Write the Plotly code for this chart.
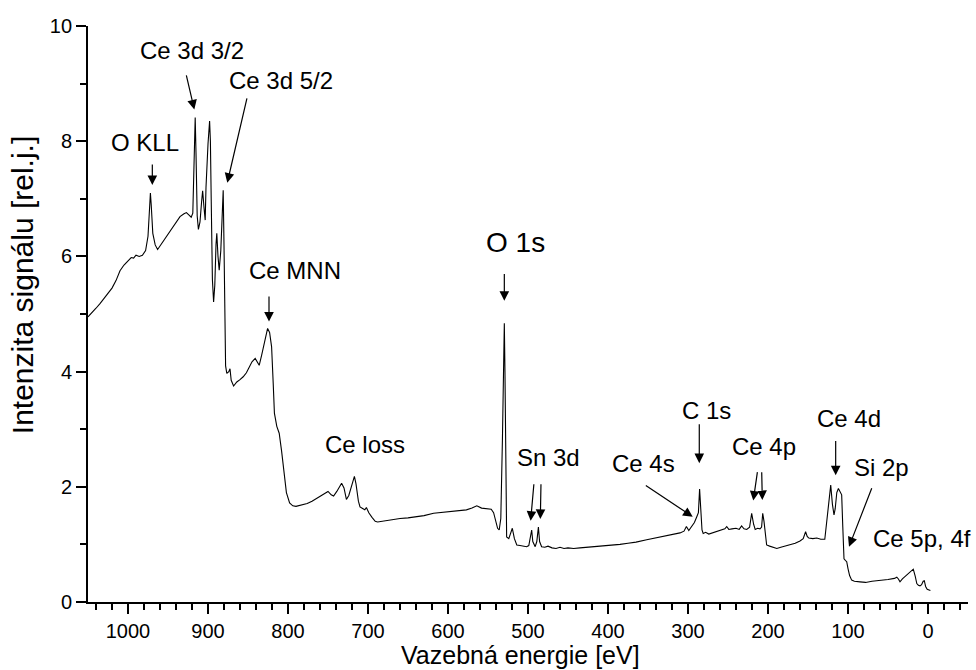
import plotly.graph_objects as go

# ---- spectrum data (binding energy [eV], intensity [rel. j.]) ----
energy = [
    1050, 1045, 1040, 1035, 1030, 1025, 1020, 1015, 1010, 1005, 1000, 996, 993, 990, 986, 982,
    978, 975, 973, 972, 971, 969, 966, 963, 960, 955, 950, 945, 940, 935, 930, 927, 924, 921,
    919, 917.5, 916, 915, 913.5, 912, 910, 908, 906.7, 905, 903.5, 902.5, 901, 900, 898, 897,
    896, 894.5, 893, 891.5, 890, 889, 887.5, 886, 884, 882, 881, 880, 879, 878, 876.5, 874,
    872.5, 871, 868, 864, 860, 856, 852, 848, 845, 841, 838.5, 836, 833, 830.5, 827.5, 825.5,
    823, 820.5, 818.5, 817, 814, 811, 808, 805, 802, 798, 794, 790, 785, 780, 776, 770, 765,
    760, 755, 750, 746, 743, 739, 735, 733, 730, 727, 724, 720, 717, 715, 712, 710, 707, 704,
    702, 699, 695, 691, 688, 680, 670, 660, 650, 640, 630, 618, 605, 590, 577, 570, 564, 558,
    552, 546, 543, 540, 538, 536, 534, 532, 530.5, 529.6, 528.8, 527.5, 526.7, 524, 521.5,
    519.6, 517, 514, 510, 506, 501.7, 499, 497, 495.4, 494, 491, 489, 487, 485.5, 483, 479,
    475, 470, 465, 460, 455, 450, 443, 435, 425, 415, 405, 393, 385, 375, 365, 351.6, 340,
    330, 320, 310, 305, 302, 299, 296, 292, 289, 287, 285.5, 284, 282.5, 281, 278, 274, 270,
    266, 262, 258, 254, 251.6, 249, 245, 240, 236, 233, 230, 226.6, 223, 220.4, 218, 216, 213,
    210, 208, 206.6, 205, 203, 201.7, 198, 194, 189, 184, 178, 172, 166, 160, 156, 153, 151,
    149, 144, 139, 134, 129, 127, 125.4, 123, 121.6, 119.5, 117.5, 116, 114, 112, 110, 107.9,
    106.5, 105, 103, 101.6, 100, 98, 95.4, 92, 85, 78, 70, 60, 50, 42, 39, 37, 35, 32, 28, 24,
    20, 18.4, 16, 14, 12, 10, 8, 6, 4.6, 3, 1, -3,
]
intensity = [
    4.95, 5.02, 5.10, 5.18, 5.27, 5.36, 5.45, 5.58, 5.75, 5.85, 5.92, 5.98, 5.97, 6.02, 6.00, 6.02,
    6.10, 6.35, 6.85, 7.10, 6.90, 6.40, 6.20, 6.12, 6.18, 6.28, 6.38, 6.48, 6.58, 6.69, 6.74, 6.76, 6.72, 6.68,
    6.75, 7.60, 8.41, 7.80, 6.70, 6.47, 6.60, 6.95, 7.14, 6.85, 6.63, 7.20, 7.85, 7.95, 8.35, 8.00,
    7.00, 5.60, 5.21, 5.50, 6.20, 6.40, 6.00, 5.76, 6.10, 6.90, 7.15, 6.20, 4.80, 4.10, 3.97, 4.00,
    4.05, 3.85, 3.75, 3.82, 3.86, 3.91, 3.98, 4.08, 4.17, 4.23, 4.18, 4.11, 4.28, 4.45, 4.65, 4.75,
    4.68, 4.43, 3.80, 3.28, 3.05, 2.93, 2.62, 2.20, 1.90, 1.72, 1.67, 1.66, 1.68, 1.70, 1.71, 1.75, 1.79,
    1.83, 1.87, 1.92, 1.86, 1.84, 1.92, 2.02, 2.06, 1.98, 1.78, 1.85, 2.05, 2.18, 2.05, 1.75, 1.65, 1.62, 1.60,
    1.64, 1.55, 1.47, 1.40, 1.39, 1.41, 1.43, 1.45, 1.46, 1.48, 1.50, 1.54, 1.56, 1.58, 1.60, 1.63, 1.67, 1.63,
    1.62, 1.61, 1.55, 1.35, 1.28, 1.25, 1.45, 2.80, 4.60, 4.84, 4.00, 2.00, 1.13, 1.10, 1.20,
    1.28, 1.10, 0.99, 0.98, 0.97, 0.96, 0.98, 1.10, 1.25, 1.05, 0.96, 1.05, 1.30, 1.05, 0.96, 0.95,
    0.97, 0.94, 0.93, 0.95, 0.93, 0.94, 0.93, 0.94, 0.95, 0.96, 0.97, 0.99, 1.00, 1.02, 1.04, 1.08, 1.11,
    1.14, 1.17, 1.20, 1.23, 1.31, 1.24, 1.30, 1.38, 1.48, 1.55, 1.96, 1.60, 1.25, 1.19, 1.21, 1.18, 1.20,
    1.22, 1.24, 1.25, 1.27, 1.31, 1.26, 1.27, 1.28, 1.26, 1.32, 1.27, 1.26, 1.30, 1.54, 1.35, 1.26, 1.28,
    1.27, 1.30, 1.54, 1.40, 1.10, 0.99, 0.97, 0.95, 0.93, 0.95, 0.97, 0.99, 1.02, 1.06, 1.10, 1.22, 1.14,
    1.11, 1.10, 1.11, 1.09, 1.09, 1.35, 1.65, 1.85, 2.03, 1.70, 1.51, 1.62, 1.90, 1.97, 1.92, 1.86,
    1.30, 0.75, 0.72, 0.70, 0.58, 0.46, 0.38, 0.36, 0.35, 0.34, 0.36, 0.37, 0.39, 0.41, 0.43, 0.40, 0.35, 0.40, 0.45, 0.50,
    0.55, 0.57, 0.45, 0.32, 0.29, 0.28, 0.30, 0.36, 0.37, 0.27, 0.22, 0.20,
]

# ---- axis ticks ----
x_tickvals = [1000, 900, 800, 700, 600, 500, 400, 300, 200, 100, 0]
x_ticktext = [str(v) for v in x_tickvals]
y_tickvals = [0, 2, 4, 6, 8, 10]
y_ticktext = [str(v) for v in y_tickvals]

# ---- peak labels (text, x, y) ----
label_text = ["O KLL", "Ce 3d 3/2", "Ce 3d 5/2", "Ce MNN", "O 1s", "Ce loss", "Sn 3d",
              "Ce 4s", "C 1s", "Ce 4p", "Ce 4d", "Si 2p", "Ce 5p, 4f"]
label_x = [979, 920.4, 809, 791, 516, 703.75, 474.6, 355.9, 276.6, 204.4, 98.75, 57.9, 8]
label_y = [7.98, 9.58, 9.06, 5.75, 6.25, 2.73, 2.51, 2.41, 3.32, 2.70, 3.19, 2.34, 1.11]
label_size = [24, 24, 24, 24, 28, 24, 24, 24, 24, 24, 24, 24, 24]

# ---- arrows (tail -> head) ----
arrow_tail_x = [969.6, 927.5, 850.9, 823.75, 529.6, 492.5, 483.75, 354.6, 285.9, 213.0, 207.9, 115.4, 69.6]
arrow_tail_y = [7.62, 9.17, 8.77, 5.33, 5.72, 2.07, 2.07, 2.04, 3.11, 2.28, 2.28, 2.82, 2.00]
arrow_head_x = [969.6, 917.1, 875.9, 823.75, 529.6, 496.7, 484.6, 294.1, 285.9, 218.4, 207.1, 115.4, 98.75]
arrow_head_y = [7.24, 8.55, 7.28, 4.87, 5.23, 1.41, 1.44, 1.48, 2.41, 1.76, 1.77, 2.20, 0.96]

FONT = "Arial, 'Liberation Sans', sans-serif"

fig = go.Figure()
fig.add_trace(go.Scatter(x=energy, y=intensity, mode="lines",
                         line=dict(color="black", width=1.1), showlegend=False,
                         hoverinfo="x+y"))

annotations = []
for t, x, y, s in zip(label_text, label_x, label_y, label_size):
    annotations.append(dict(x=x, y=y, xref="x", yref="y", text=t, showarrow=False,
                            font=dict(family=FONT, size=s, color="black"),
                            xanchor="center", yanchor="middle"))
for tx, ty, hx, hy in zip(arrow_tail_x, arrow_tail_y, arrow_head_x, arrow_head_y):
    annotations.append(dict(x=hx, y=hy, ax=tx, ay=ty, xref="x", yref="y",
                            axref="x", ayref="y", text="", showarrow=True,
                            arrowhead=2, arrowsize=1.6, arrowwidth=1.2,
                            arrowcolor="black", standoff=0))
# axis titles
annotations.append(dict(x=0.491, y=-0.092, xref="paper", yref="paper",
                        text="Vazebná energie [eV]", showarrow=False,
                        font=dict(family=FONT, size=25, color="black"),
                        xanchor="center", yanchor="middle"))
annotations.append(dict(x=-0.075, y=0.55, xref="paper", yref="paper",
                        text="Intenzita signálu [rel.j.]", showarrow=False, textangle=-90,
                        font=dict(family=FONT, size=30, color="black"),
                        xanchor="center", yanchor="middle"))

fig.update_layout(
    width=976, height=670,
    margin=dict(l=88, r=8, t=26, b=68),
    paper_bgcolor="white", plot_bgcolor="white",
    font=dict(family=FONT, color="black"),
    annotations=annotations,
    xaxis=dict(range=[1050, -50], tickvals=x_tickvals, ticktext=x_ticktext,
               ticks="outside", ticklen=10, tickwidth=1.5, tickcolor="black",
               showline=True, linewidth=1.8, linecolor="black",
               showgrid=False, zeroline=False, tickfont=dict(size=20, family=FONT),
               minor=dict(dtick=20, tick0=0, ticks="outside", ticklen=6, tickwidth=1.5,
                          tickcolor="black", showgrid=False)),
    yaxis=dict(range=[0, 10], tickvals=y_tickvals, ticktext=y_ticktext,
               ticks="outside", ticklen=10, tickwidth=1.5, tickcolor="black",
               showline=True, linewidth=1.8, linecolor="black",
               showgrid=False, zeroline=False, tickfont=dict(size=20, family=FONT),
               minor=dict(dtick=1, tick0=0, ticks="outside", ticklen=6, tickwidth=1.5,
                          tickcolor="black", showgrid=False)),
)

fig.write_html("out.html", config={"displayModeBar": False},
               post_script="document.body.style.margin='0';document.body.style.overflow='hidden';")
